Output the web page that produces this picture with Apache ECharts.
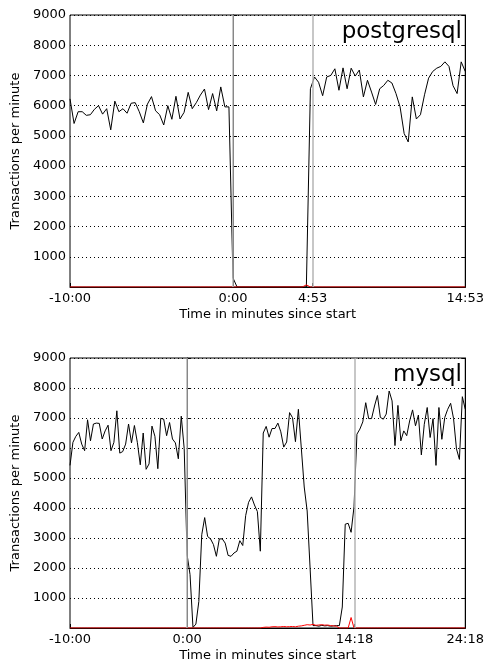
<!DOCTYPE html>
<html>
<head>
<meta charset="utf-8">
<script src="https://cdn.jsdelivr.net/npm/echarts@6/dist/echarts.min.js"></script>
<style>html,body{margin:0;padding:0;background:#fff}#c{width:487px;height:663px}</style>
</head>
<body>
<div id="c"></div>
<script>
// ---- data (sample every 15 s, time in minutes since start) ----
const sampleStepMin = 0.25;
const startMin = -10;

const pgTitle = 'postgresql';
const pgTickValues = [-10, 0, 4.883, 14.25];
const pgTickLabels = ['-10:00', '0:00', '4:53', '14:53'];
const pgEventTimes = [0, 4.883];
const pgTpm = [
  6225,5410,5800,5800,5680,5700,5880,6000,5720,5900,
  5200,6150,5800,5900,5750,6080,6100,5800,5430,6050,
  6300,5830,5700,5360,6000,5550,6310,5560,5780,6440,
  5900,6100,6350,6550,5870,6400,5830,6620,5960,5960,
  300,0,0,0,0,0,0,0,0,0,
  0,0,0,0,0,0,0,0,0,6560,
  6950,6775,6330,6950,7000,7220,6510,7250,6560,7240,
  6980,7180,6290,6840,6450,6040,6560,6670,6840,6750,
  6400,5960,5080,4800,6290,5560,5700,6360,6910,7130,
  7240,7300,7450,7300,6660,6400,7450,7130
];
const pgErr = [
  0,0,0,0,0,0,0,0,0,0,
  0,0,0,0,0,0,0,0,0,0,
  0,0,0,0,0,0,0,0,0,0,
  0,0,0,0,0,0,0,0,0,0,
  0,0,0,0,0,0,0,0,0,0,
  0,0,0,0,0,0,0,0,70,0,
  0,0,0,0,0,0,0,0,0,0,
  0,0,0,0,0,0,0,0,0,0,
  0,0,0,0,0,0,0,0,0,0,
  0,0,0,0,0,0,0,0
];

const myTitle = 'mysql';
const myTickValues = [-10, 0, 14.3, 23.75];
const myTickLabels = ['-10:00', '0:00', '14:18', '24:18'];
const myEventTimes = [0, 14.3];
const myTpm = [
  5420,6190,6390,6520,6130,5910,6940,6240,6800,6830,
  6820,6300,6570,6760,5910,6190,7240,5830,5880,6130,
  6800,6170,6750,6190,5440,6500,5290,5470,6730,6390,
  5310,6990,6960,6410,6850,6300,6170,5640,7060,5980,
  2440,1780,20,130,880,3110,3680,3050,2970,2780,
  2390,2970,2970,2830,2420,2390,2500,2560,2910,2750,
  3750,4190,4370,4100,3880,2560,6500,6720,6360,6650,
  6650,6830,6540,6030,6200,7180,7010,6210,7290,6000,
  4700,3900,2000,80,80,60,90,70,80,60,
  70,80,80,700,3460,3490,3190,4040,6460,6630,
  6870,7510,6980,6980,7400,7750,7020,6960,7130,7900,
  7570,6080,7420,6240,6570,6410,6900,7270,6740,7100,
  5770,6790,7350,6350,6980,5420,7350,6290,7020,7290,
  7490,6980,5970,5620,7710,7290
];
const myErr = [
  0,0,0,0,0,0,0,0,0,0,
  0,0,0,0,0,0,0,0,0,0,
  0,0,0,0,0,0,0,0,0,0,
  0,0,0,0,0,0,0,0,0,0,
  0,0,0,0,0,0,0,0,0,0,
  0,0,0,0,0,0,0,0,0,0,
  0,0,0,0,0,0,20,30,25,40,
  45,35,40,50,40,45,50,40,60,70,
  90,110,100,120,90,100,110,95,100,80,
  70,60,0,0,0,0,350,0,0,0,
  0,0,0,0,0,0,0,0,0,0,
  0,0,0,0,0,0,0,0,0,0,
  0,0,0,0,0,0,0,0,0,0,
  0,0,0,0,0,0
];

const yTicks = { min: 0, max: 9000, interval: 1000 };
const yName = 'Transactions per minute';
const xName = 'Time in minutes since start';

// ---- build ----
const FONT = 'DejaVu Sans';
function pairs(vals) { return vals.map((v, i) => [startMin + i * sampleStepMin, v]); }

function xAxisFor(grid, ticks, labels) {
  return {
    type: 'value', gridIndex: grid,
    min: ticks[0], max: ticks[ticks.length - 1],
    name: xName, nameLocation: 'middle', nameGap: 21,
    nameTextStyle: { fontFamily: FONT, fontSize: 13, color: '#000' },
    axisLine: { show: true, lineStyle: { color: '#000', width: 1 } },
    axisTick: { show: true, inside: true, length: 4, customValues: ticks, lineStyle: { color: '#000' } },
    axisLabel: {
      customValues: ticks, margin: 5, fontFamily: FONT, fontSize: 13, color: '#000',
      formatter: function (v) { const k = ticks.findIndex(t => Math.abs(t - v) < 1e-6); return k >= 0 ? labels[k] : ''; }
    },
    splitLine: { show: false }
  };
}
function yAxisFor(grid, right) {
  return {
    type: 'value', gridIndex: grid, position: right ? 'right' : 'left',
    min: yTicks.min, max: yTicks.max, interval: yTicks.interval,
    name: right ? '' : yName, nameLocation: 'middle', nameGap: 43,
    nameTextStyle: { fontFamily: FONT, fontSize: 13, color: '#000' },
    axisLine: { show: true, lineStyle: { color: '#000', width: 1 } },
    axisTick: { show: true, inside: true, length: 4, lineStyle: { color: '#000' } },
    axisLabel: {
      show: !right, margin: 4, fontFamily: FONT, fontSize: 13, color: '#000',
      formatter: function (v) { return v === 0 ? '' : String(v); }
    },
    splitLine: { show: !right, lineStyle: { color: '#000', width: 1, type: [1, 3] } }
  };
}
function eventLines(times) {
  return {
    silent: true, symbol: 'none', label: { show: false },
    lineStyle: { color: '#b4b4b4', width: 1.5, type: 'solid' },
    data: times.map(t => ({ xAxis: t }))
  };
}

const chart = echarts.init(document.getElementById('c'), null, { renderer: 'canvas' });
chart.setOption({
  animation: false,
  backgroundColor: '#fff',
  title: [
    { text: pgTitle, right: 20, top: 16, textStyle: { fontFamily: FONT, fontSize: 23, fontWeight: 'normal', color: '#000' } },
    { text: myTitle, right: 20, top: 359, textStyle: { fontFamily: FONT, fontSize: 23, fontWeight: 'normal', color: '#000' } }
  ],
  grid: [
    { left: 70, top: 15, width: 396, height: 272, show: true, borderColor: '#000', borderWidth: 1, backgroundColor: 'transparent' },
    { left: 70, top: 358, width: 396, height: 272, show: true, borderColor: '#000', borderWidth: 1, backgroundColor: 'transparent' }
  ],
  xAxis: [xAxisFor(0, pgTickValues, pgTickLabels), xAxisFor(1, myTickValues, myTickLabels)],
  yAxis: [yAxisFor(0, false), yAxisFor(0, true), yAxisFor(1, false), yAxisFor(1, true)],
  series: [
    { type: 'line', xAxisIndex: 0, yAxisIndex: 0, data: pairs(pgTpm), showSymbol: false, lineStyle: { color: '#000', width: 1 }, itemStyle: { color: '#000' }, markLine: eventLines(pgEventTimes), z: 3 },
    { type: 'line', xAxisIndex: 0, yAxisIndex: 0, data: pairs(pgErr), showSymbol: false, lineStyle: { color: '#ff0000', width: 1 }, itemStyle: { color: '#ff0000' }, z: 4 },
    { type: 'line', xAxisIndex: 1, yAxisIndex: 2, data: pairs(myTpm), showSymbol: false, lineStyle: { color: '#000', width: 1 }, itemStyle: { color: '#000' }, markLine: eventLines(myEventTimes), z: 3 },
    { type: 'line', xAxisIndex: 1, yAxisIndex: 2, data: pairs(myErr), showSymbol: false, lineStyle: { color: '#ff0000', width: 1 }, itemStyle: { color: '#ff0000' }, z: 4 }
  ]
});
</script>
</body>
</html>
